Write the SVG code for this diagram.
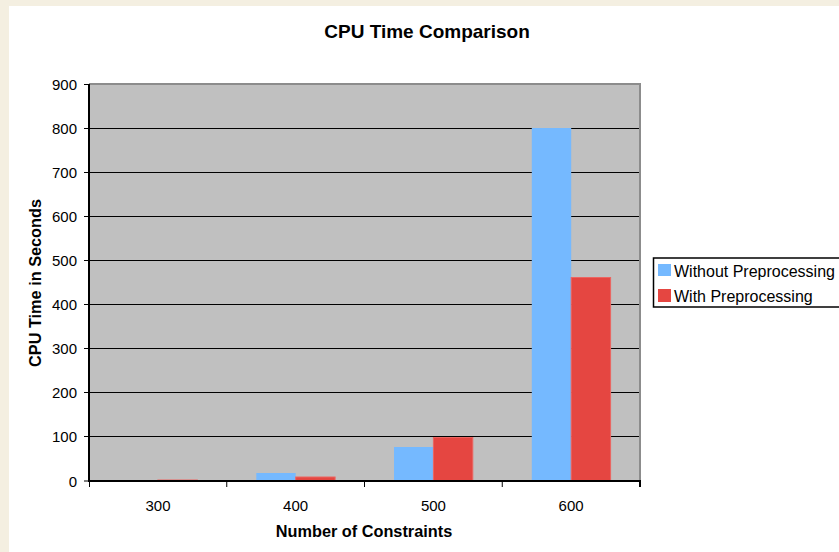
<svg xmlns="http://www.w3.org/2000/svg" width="839" height="552" viewBox="0 0 839 552">
<style>
.t{font-family:"Liberation Sans",Arial,sans-serif;fill:#000}
.tick{font-size:15px}
.ttl{font-size:16.3px;font-weight:bold}
.grid{stroke:#000;stroke-width:1}
.blue{fill:#75B9FF}
.red{fill:#E54641;stroke:#EC6561;stroke-width:1}
</style>
<rect x="0" y="0" width="839" height="552" fill="#F4EFE1"/>
<rect x="9" y="6" width="830" height="546" fill="#FFFFFF"/>
<g id="title"><text class="t" x="427" y="38" text-anchor="middle" font-size="19" font-weight="bold">CPU Time Comparison</text></g>
<g id="plot-area">
<rect x="89" y="84" width="551" height="397" fill="#C0C0C0"/>
<g class="grid">
<line x1="89" y1="128.5" x2="640" y2="128.5"/>
<line x1="89" y1="172.5" x2="640" y2="172.5"/>
<line x1="89" y1="216.5" x2="640" y2="216.5"/>
<line x1="89" y1="260.5" x2="640" y2="260.5"/>
<line x1="89" y1="304.5" x2="640" y2="304.5"/>
<line x1="89" y1="348.5" x2="640" y2="348.5"/>
<line x1="89" y1="392.5" x2="640" y2="392.5"/>
<line x1="89" y1="436.5" x2="640" y2="436.5"/>
</g>
<polyline points="89,84 640,84 640,481" fill="none" stroke="#8C8C8C" stroke-width="2"/>
</g>
<g id="bars">
<rect class="blue" x="118.5" y="480" width="39.4" height="1"/>
<rect class="red" x="157.9" y="480" width="39.4" height="1"/>
<rect class="blue" x="256.3" y="473" width="39.4" height="8"/>
<rect class="red" x="295.7" y="477" width="39.4" height="4"/>
<rect class="blue" x="394" y="447" width="39.4" height="34"/>
<rect class="red" x="433.4" y="437.5" width="39.4" height="43.5"/>
<rect class="blue" x="531.8" y="128" width="39.4" height="353"/>
<rect class="red" x="571.2" y="277.5" width="39.4" height="203.5"/>
</g>
<g id="axes" stroke="#000">
<line x1="89" y1="84" x2="89" y2="482" stroke-width="2"/>
<line x1="88" y1="481" x2="641" y2="481" stroke-width="2"/>
<g stroke-width="1">
<line x1="84" y1="84.5" x2="89" y2="84.5"/>
<line x1="84" y1="128.5" x2="89" y2="128.5"/>
<line x1="84" y1="172.5" x2="89" y2="172.5"/>
<line x1="84" y1="216.5" x2="89" y2="216.5"/>
<line x1="84" y1="260.5" x2="89" y2="260.5"/>
<line x1="84" y1="304.5" x2="89" y2="304.5"/>
<line x1="84" y1="348.5" x2="89" y2="348.5"/>
<line x1="84" y1="392.5" x2="89" y2="392.5"/>
<line x1="84" y1="436.5" x2="89" y2="436.5"/>
<line x1="84" y1="481" x2="89" y2="481"/>
<line x1="89.5" y1="481" x2="89.5" y2="487"/>
<line x1="226.75" y1="481" x2="226.75" y2="487"/>
<line x1="364.5" y1="481" x2="364.5" y2="487"/>
<line x1="502.25" y1="481" x2="502.25" y2="487"/>
<line x1="640" y1="481" x2="640" y2="487" stroke-width="2"/>
</g>
</g>
<g id="y-labels" class="t tick" text-anchor="end">
<text x="77" y="90">900</text>
<text x="77" y="134">800</text>
<text x="77" y="178">700</text>
<text x="77" y="222">600</text>
<text x="77" y="266">500</text>
<text x="77" y="310">400</text>
<text x="77" y="354">300</text>
<text x="77" y="398">200</text>
<text x="77" y="442">100</text>
<text x="77" y="487">0</text>
</g>
<g id="x-labels" class="t tick" text-anchor="middle">
<text x="158" y="511">300</text>
<text x="295.6" y="511">400</text>
<text x="433.4" y="511">500</text>
<text x="571.1" y="511">600</text>
</g>
<g id="axis-titles">
<text class="t ttl" x="364" y="537" text-anchor="middle">Number of Constraints</text>
<text class="t ttl" transform="translate(41,283) rotate(-90)" text-anchor="middle">CPU Time in Seconds</text>
</g>
<g id="legend">
<rect x="653.5" y="258" width="200" height="49" fill="#FFFFFF" stroke="#000" stroke-width="1.5"/>
<rect class="blue" x="658" y="264" width="13" height="12"/>
<rect x="658" y="289" width="13" height="13" fill="#E54641"/>
<text class="t" x="674" y="277" font-size="16">Without Preprocessing</text>
<text class="t" x="674" y="302" font-size="16">With Preprocessing</text>
</g>
</svg>
